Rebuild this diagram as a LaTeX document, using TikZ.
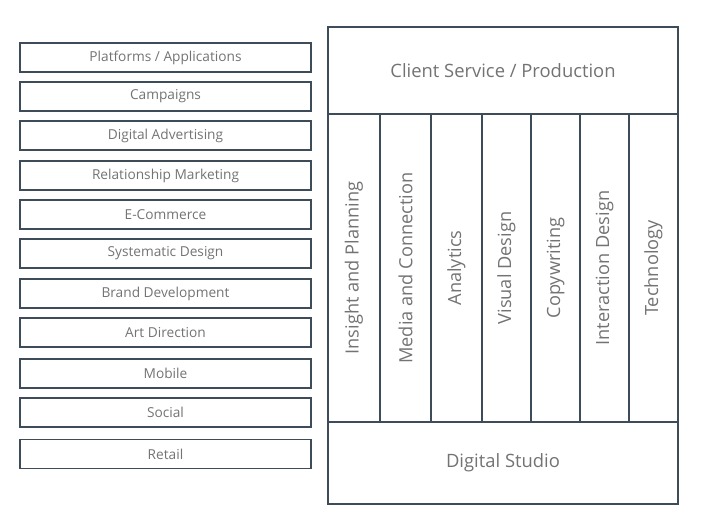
\documentclass[tikz,border=0pt]{standalone}
\usepackage{fontspec}
\setmainfont{Open Sans}
\usetikzlibrary{positioning}
\definecolor{cline}{HTML}{3E4B59}
\definecolor{ctext}{HTML}{737373}
\tikzset{
  every picture/.style={line width=1.2pt, x=1pt, y=-1pt},
  item/.style={draw=cline, text=ctext, minimum width=291pt, minimum height=29pt, inner sep=0pt, font=\fontsize{13.7}{16}\selectfont},
  band/.style={draw=cline, text=ctext, minimum width=350pt, inner sep=0pt, font=\fontsize{18.4}{21}\selectfont},
  col/.style={draw=cline, text=ctext, rotate=90, minimum width=308pt, inner sep=0pt, font=\fontsize{18.2}{21}\selectfont},
}

\begin{document}
\begin{tikzpicture}
  \useasboundingbox (0,0) rectangle (709,520);

  % offerings on the left
  \foreach \y/\n/\t in {57.5/plat/{Platforms / Applications}, 96.5/camp/Campaigns,
      135.5/adv/Digital Advertising, 175.5/rel/Relationship Marketing,
      214.5/ecom/E-Commerce, 253.5/sys/Systematic Design,
      293.5/brand/Brand Development, 332.5/art/Art Direction,
      373.5/mob/Mobile, 412.5/soc/Social, 454/ret/Retail}
    \node[item] (\n) at (165.5,\y) {\t};

  % agency structure
  \node[band, minimum height=87pt] (client) at (503,70.5) {Client Service / Production};
  \foreach \xa/\xb/\n/\t in {328/380/ins/Insight and Planning, 380/431/med/Media and Connection,
      431/482/ana/Analytics, 482/531/vis/Visual Design, 531/580/copy/Copywriting,
      580/629/inter/Interaction Design, 629/678/tech/Technology}
    \node[col, minimum height=\xb pt-\xa pt] (\n) at ({(\xa+\xb)/2},268) {\t};
  \node[band, minimum height=82pt] (studio) at (503,463) {Digital Studio};
\end{tikzpicture}
\end{document}
